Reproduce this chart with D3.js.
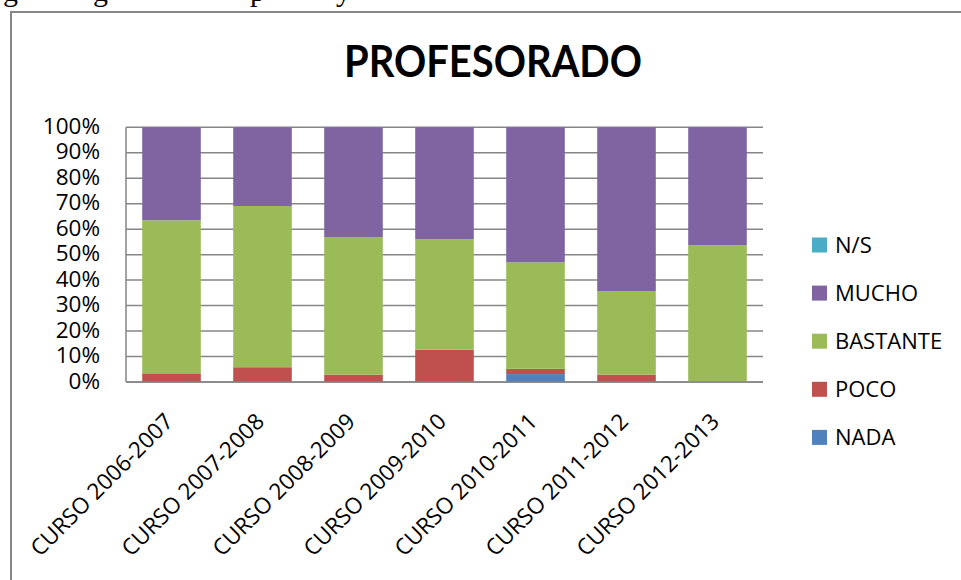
<!DOCTYPE html>
<html>
<head>
<meta charset="utf-8">
<script src="https://cdn.jsdelivr.net/npm/d3@7"></script>
<style>
  body { margin: 0; background: #fff; }
  svg { display: block; }
  text { font-family: "Open Sans", sans-serif; fill: #000; }
</style>
</head>
<body>
<div id="chart"></div>
<script>
// data (percent of answers per course)
const cursos = ['CURSO 2006-2007', 'CURSO 2007-2008', 'CURSO 2008-2009', 'CURSO 2009-2010',
  'CURSO 2010-2011', 'CURSO 2011-2012', 'CURSO 2012-2013'];
const nada     = [0, 0, 0, 0, 3.1, 0, 0];
const poco     = [3.4, 5.8, 2.9, 12.7, 2.1, 2.9, 0];
const bastante = [60.1, 63.3, 54.0, 43.4, 41.8, 32.8, 53.7];
const mucho    = [36.5, 30.9, 43.1, 43.9, 53.0, 64.3, 46.3];
const ns       = [0, 0, 0, 0, 0, 0, 0];
const series = ['NADA', 'POCO', 'BASTANTE', 'MUCHO', 'N/S'];
const colores = ['#4F81BD', '#C0504D', '#9BBB59', '#8064A2', '#4BACC6'];
const yTicks = [0, 10, 20, 30, 40, 50, 60, 70, 80, 90, 100];

const width = 961, height = 580;
const margin = { left: 126, right: 198, top: 127.3, bottom: 198 };

const svg = d3.select('#chart').append('svg')
  .attr('width', width)
  .attr('height', height);

// bits of the page text above the chart, clipped off by the crop
const recorte = [{ c: 'g', x: 3 }, { c: 'g', x: 93 }, { c: 'p', x: 250 }, { c: 'y', x: 336 }];
svg.selectAll('text.doc').data(recorte).enter().append('text')
  .attr('class', 'doc')
  .attr('x', d => d.x).attr('y', 1)
  .style('font-family', '"Liberation Serif", serif')
  .style('font-size', '30px')
  .text(d => d.c);

// chart frame
svg.append('rect')
  .attr('x', 11).attr('y', 12)
  .attr('width', 1000).attr('height', 700)
  .attr('fill', 'none')
  .attr('stroke', '#868686')
  .attr('stroke-width', 2);

svg.append('text')
  .attr('x', 493).attr('y', 77)
  .attr('text-anchor', 'middle')
  .attr('textLength', 298)
  .attr('lengthAdjust', 'spacingAndGlyphs')
  .style('font-family', 'Lato, "Open Sans", sans-serif')
  .style('font-weight', 'bold')
  .style('font-size', '43px')
  .text('PROFESORADO');

const x = d3.scaleBand()
  .domain(cursos)
  .range([margin.left, width - margin.right])
  .paddingInner(0.356)
  .paddingOuter(0.178);

const y = d3.scaleLinear()
  .domain([0, 100])
  .range([height - margin.bottom, margin.top]);

// gridlines
svg.append('g').selectAll('line').data(yTicks).enter().append('line')
  .attr('x1', margin.left).attr('x2', x.range()[1])
  .attr('y1', d => y(d)).attr('y2', d => y(d))
  .attr('stroke', '#868686')
  .attr('stroke-width', 1.5);

svg.append('line')
  .attr('x1', margin.left).attr('x2', margin.left)
  .attr('y1', y(100)).attr('y2', y(0))
  .attr('stroke', '#868686')
  .attr('stroke-width', 1.5);

// y labels
svg.append('g').selectAll('text').data(yTicks).enter().append('text')
  .attr('x', 100)
  .attr('y', d => y(d) + 6.5)
  .attr('text-anchor', 'end')
  .style('font-size', '22.5px')
  .text(d => d + '%');

// stacked bars
const tabla = cursos.map((c, i) => ({
  curso: c, 'NADA': nada[i], 'POCO': poco[i], 'BASTANTE': bastante[i], 'MUCHO': mucho[i], 'N/S': ns[i]
}));
const stack = d3.stack().keys(series)(tabla);

svg.append('g').selectAll('g').data(stack).enter().append('g')
  .attr('fill', (d, i) => colores[i])
  .selectAll('rect').data(d => d).enter().append('rect')
  .attr('x', d => x(d.data.curso))
  .attr('width', x.bandwidth())
  .attr('y', d => y(d[1]))
  .attr('height', d => y(d[0]) - y(d[1]));

// bottom axis line on top of bars
svg.append('line')
  .attr('x1', margin.left).attr('x2', x.range()[1])
  .attr('y1', y(0)).attr('y2', y(0))
  .attr('stroke', '#868686')
  .attr('stroke-width', 1.5);

// rotated category labels
svg.append('g').selectAll('text').data(cursos).enter().append('text')
  .attr('transform', d => `translate(${x(d) + x.bandwidth() / 2 + 3},${y(0) + 41}) rotate(-45)`)
  .attr('text-anchor', 'end')
  .style('font-size', '22.5px')
  .text(d => d);

// legend, top to bottom reversed
const leyenda = series.map((s, i) => ({ s: s, c: colores[i] })).reverse();
const lg = svg.append('g').selectAll('g').data(leyenda).enter().append('g')
  .attr('transform', (d, i) => `translate(812,${245 + i * 48.1})`);
lg.append('rect')
  .attr('x', 0).attr('y', -7.5)
  .attr('width', 15).attr('height', 15)
  .attr('fill', d => d.c);
lg.append('text')
  .attr('x', 23).attr('y', 8)
  .style('font-size', '22px')
  .text(d => d.s);
</script>
</body>
</html>
